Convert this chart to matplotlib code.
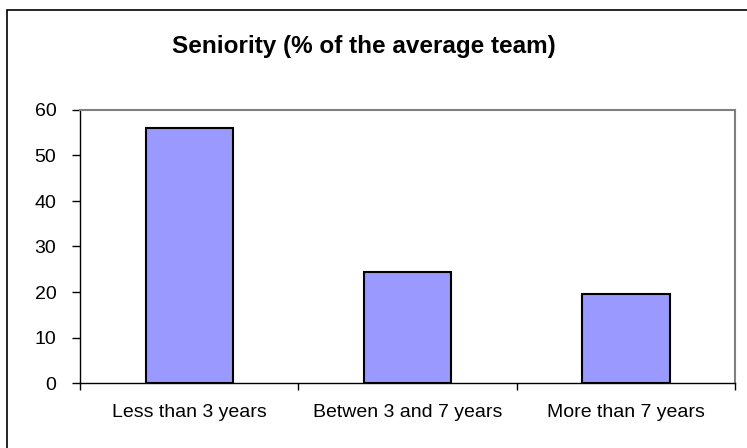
import numpy as np
import matplotlib.pyplot as plt
from matplotlib.patches import Rectangle

plt.rcParams['font.family'] = ['Liberation Sans', 'DejaVu Sans']

# data
categories = ['Less than 3 years', 'Betwen 3 and 7 years', 'More than 7 years']
values = [56.0, 24.4, 19.6]
yticks = [0, 10, 20, 30, 40, 50, 60]

fig = plt.figure(figsize=(7.47, 4.48), dpi=100)
fig.patch.set_facecolor('white')

# outer chart frame (runs off the right and bottom edges)
fig.patches.append(Rectangle((7 / 747, -0.1), 1.2, 1 - 10 / 448 + 0.1,
                             transform=fig.transFigure, fill=False,
                             edgecolor='black', linewidth=1.2))

ax = fig.add_axes([80 / 747, 1 - 383 / 448, (735 - 80) / 747, (383 - 110) / 448])
x = np.arange(len(categories))
ax.bar(x, values, width=0.4, color='#9999FF', edgecolor='black', linewidth=1.5, zorder=3)

ax.set_xlim(-0.5, len(categories) - 0.5)
ax.set_ylim(0, 60)
ax.set_yticks(yticks)
ax.set_yticklabels([str(t) for t in yticks], fontsize=14)

# category labels centred, ticks on category boundaries
ax.set_xticks(x)
ax.set_xticklabels(categories, fontsize=14)
ax.tick_params(axis='x', length=0, pad=15)
ax.set_xticks(np.arange(-0.5, len(categories)), minor=True)
ax.tick_params(axis='x', which='minor', length=5, width=1, direction='out')
ax.tick_params(axis='y', length=6, width=1, direction='out', pad=11)

for side in ['top', 'right']:
    ax.spines[side].set_color('#808080')
    ax.spines[side].set_linewidth(1.5)
for side in ['left', 'bottom']:
    ax.spines[side].set_color('black')
    ax.spines[side].set_linewidth(1.0)

fig.text(364 / 747, 1 - 47 / 448, 'Seniority (% of the average team)',
         ha='center', va='center', fontsize=17.5, fontweight='bold')

fig.savefig('out.png', dpi=100)
